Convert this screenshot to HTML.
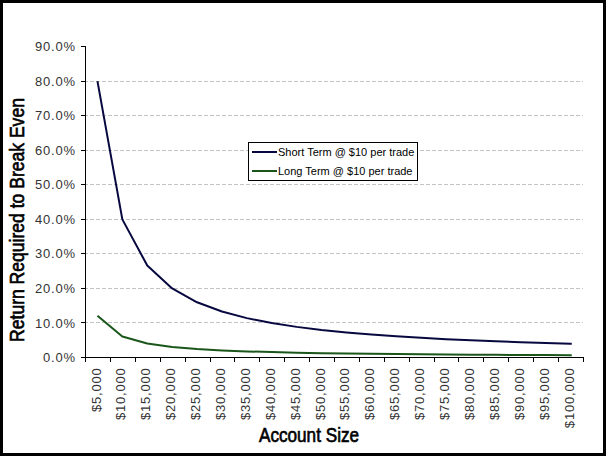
<!DOCTYPE html><html><head><meta charset="utf-8"><style>html,body{margin:0;padding:0;background:#fff}svg{display:block}</style></head><body>
<svg width="606" height="456" viewBox="0 0 606 456">
<rect x="0" y="0" width="606" height="456" fill="#000"/>
<rect x="3" y="3" width="600" height="450" fill="#fff"/>
<line x1="86" y1="322.5" x2="583" y2="322.5" stroke="#c4c4c4" stroke-width="1" stroke-dasharray="4 2" stroke-dashoffset="2"/>
<line x1="86" y1="288.5" x2="583" y2="288.5" stroke="#c4c4c4" stroke-width="1" stroke-dasharray="4 2" stroke-dashoffset="2"/>
<line x1="86" y1="253.5" x2="583" y2="253.5" stroke="#c4c4c4" stroke-width="1" stroke-dasharray="4 2" stroke-dashoffset="2"/>
<line x1="86" y1="219.5" x2="583" y2="219.5" stroke="#c4c4c4" stroke-width="1" stroke-dasharray="4 2" stroke-dashoffset="2"/>
<line x1="86" y1="184.5" x2="583" y2="184.5" stroke="#c4c4c4" stroke-width="1" stroke-dasharray="4 2" stroke-dashoffset="2"/>
<line x1="86" y1="150.5" x2="583" y2="150.5" stroke="#c4c4c4" stroke-width="1" stroke-dasharray="4 2" stroke-dashoffset="2"/>
<line x1="86" y1="115.5" x2="583" y2="115.5" stroke="#c4c4c4" stroke-width="1" stroke-dasharray="4 2" stroke-dashoffset="2"/>
<line x1="86" y1="81.5" x2="583" y2="81.5" stroke="#c4c4c4" stroke-width="1" stroke-dasharray="4 2" stroke-dashoffset="2"/>
<line x1="85.5" y1="46" x2="85.5" y2="358" stroke="#000" stroke-width="1"/>
<line x1="81" y1="357.5" x2="584" y2="357.5" stroke="#000" stroke-width="1"/>
<line x1="81" y1="357.5" x2="86" y2="357.5" stroke="#000" stroke-width="1"/>
<line x1="81" y1="322.5" x2="86" y2="322.5" stroke="#000" stroke-width="1"/>
<line x1="81" y1="288.5" x2="86" y2="288.5" stroke="#000" stroke-width="1"/>
<line x1="81" y1="253.5" x2="86" y2="253.5" stroke="#000" stroke-width="1"/>
<line x1="81" y1="219.5" x2="86" y2="219.5" stroke="#000" stroke-width="1"/>
<line x1="81" y1="184.5" x2="86" y2="184.5" stroke="#000" stroke-width="1"/>
<line x1="81" y1="150.5" x2="86" y2="150.5" stroke="#000" stroke-width="1"/>
<line x1="81" y1="115.5" x2="86" y2="115.5" stroke="#000" stroke-width="1"/>
<line x1="81" y1="81.5" x2="86" y2="81.5" stroke="#000" stroke-width="1"/>
<line x1="81" y1="46.5" x2="86" y2="46.5" stroke="#000" stroke-width="1"/>
<line x1="85.5" y1="357" x2="85.5" y2="362" stroke="#000" stroke-width="1"/>
<line x1="110.5" y1="357" x2="110.5" y2="362" stroke="#000" stroke-width="1"/>
<line x1="135.5" y1="357" x2="135.5" y2="362" stroke="#000" stroke-width="1"/>
<line x1="160.5" y1="357" x2="160.5" y2="362" stroke="#000" stroke-width="1"/>
<line x1="185.5" y1="357" x2="185.5" y2="362" stroke="#000" stroke-width="1"/>
<line x1="210.5" y1="357" x2="210.5" y2="362" stroke="#000" stroke-width="1"/>
<line x1="234.5" y1="357" x2="234.5" y2="362" stroke="#000" stroke-width="1"/>
<line x1="259.5" y1="357" x2="259.5" y2="362" stroke="#000" stroke-width="1"/>
<line x1="284.5" y1="357" x2="284.5" y2="362" stroke="#000" stroke-width="1"/>
<line x1="309.5" y1="357" x2="309.5" y2="362" stroke="#000" stroke-width="1"/>
<line x1="334.5" y1="357" x2="334.5" y2="362" stroke="#000" stroke-width="1"/>
<line x1="359.5" y1="357" x2="359.5" y2="362" stroke="#000" stroke-width="1"/>
<line x1="384.5" y1="357" x2="384.5" y2="362" stroke="#000" stroke-width="1"/>
<line x1="409.5" y1="357" x2="409.5" y2="362" stroke="#000" stroke-width="1"/>
<line x1="434.5" y1="357" x2="434.5" y2="362" stroke="#000" stroke-width="1"/>
<line x1="458.5" y1="357" x2="458.5" y2="362" stroke="#000" stroke-width="1"/>
<line x1="483.5" y1="357" x2="483.5" y2="362" stroke="#000" stroke-width="1"/>
<line x1="508.5" y1="357" x2="508.5" y2="362" stroke="#000" stroke-width="1"/>
<line x1="533.5" y1="357" x2="533.5" y2="362" stroke="#000" stroke-width="1"/>
<line x1="558.5" y1="357" x2="558.5" y2="362" stroke="#000" stroke-width="1"/>
<line x1="583.5" y1="357" x2="583.5" y2="362" stroke="#000" stroke-width="1"/>
<text x="75.8" y="357.6" text-anchor="end" dominant-baseline="central" font-family="Liberation Sans, sans-serif" font-size="13.0" letter-spacing="0.8" fill="#333">0.0%</text>
<text x="75.8" y="323.0" text-anchor="end" dominant-baseline="central" font-family="Liberation Sans, sans-serif" font-size="13.0" letter-spacing="0.8" fill="#333">10.0%</text>
<text x="75.8" y="288.5" text-anchor="end" dominant-baseline="central" font-family="Liberation Sans, sans-serif" font-size="13.0" letter-spacing="0.8" fill="#333">20.0%</text>
<text x="75.8" y="253.9" text-anchor="end" dominant-baseline="central" font-family="Liberation Sans, sans-serif" font-size="13.0" letter-spacing="0.8" fill="#333">30.0%</text>
<text x="75.8" y="219.4" text-anchor="end" dominant-baseline="central" font-family="Liberation Sans, sans-serif" font-size="13.0" letter-spacing="0.8" fill="#333">40.0%</text>
<text x="75.8" y="184.8" text-anchor="end" dominant-baseline="central" font-family="Liberation Sans, sans-serif" font-size="13.0" letter-spacing="0.8" fill="#333">50.0%</text>
<text x="75.8" y="150.3" text-anchor="end" dominant-baseline="central" font-family="Liberation Sans, sans-serif" font-size="13.0" letter-spacing="0.8" fill="#333">60.0%</text>
<text x="75.8" y="115.7" text-anchor="end" dominant-baseline="central" font-family="Liberation Sans, sans-serif" font-size="13.0" letter-spacing="0.8" fill="#333">70.0%</text>
<text x="75.8" y="81.2" text-anchor="end" dominant-baseline="central" font-family="Liberation Sans, sans-serif" font-size="13.0" letter-spacing="0.8" fill="#333">80.0%</text>
<text x="75.8" y="46.6" text-anchor="end" dominant-baseline="central" font-family="Liberation Sans, sans-serif" font-size="13.0" letter-spacing="0.8" fill="#333">90.0%</text>
<text transform="translate(96.0,367.5) rotate(-90)" x="0" y="0" text-anchor="end" dominant-baseline="central" font-family="Liberation Sans, sans-serif" font-size="13.0" letter-spacing="0.8" fill="#333">$5,000</text>
<text transform="translate(120.8,367.5) rotate(-90)" x="0" y="0" text-anchor="end" dominant-baseline="central" font-family="Liberation Sans, sans-serif" font-size="13.0" letter-spacing="0.8" fill="#333">$10,000</text>
<text transform="translate(145.8,367.5) rotate(-90)" x="0" y="0" text-anchor="end" dominant-baseline="central" font-family="Liberation Sans, sans-serif" font-size="13.0" letter-spacing="0.8" fill="#333">$15,000</text>
<text transform="translate(170.6,367.5) rotate(-90)" x="0" y="0" text-anchor="end" dominant-baseline="central" font-family="Liberation Sans, sans-serif" font-size="13.0" letter-spacing="0.8" fill="#333">$20,000</text>
<text transform="translate(195.6,367.5) rotate(-90)" x="0" y="0" text-anchor="end" dominant-baseline="central" font-family="Liberation Sans, sans-serif" font-size="13.0" letter-spacing="0.8" fill="#333">$25,000</text>
<text transform="translate(220.4,367.5) rotate(-90)" x="0" y="0" text-anchor="end" dominant-baseline="central" font-family="Liberation Sans, sans-serif" font-size="13.0" letter-spacing="0.8" fill="#333">$30,000</text>
<text transform="translate(245.3,367.5) rotate(-90)" x="0" y="0" text-anchor="end" dominant-baseline="central" font-family="Liberation Sans, sans-serif" font-size="13.0" letter-spacing="0.8" fill="#333">$35,000</text>
<text transform="translate(270.2,367.5) rotate(-90)" x="0" y="0" text-anchor="end" dominant-baseline="central" font-family="Liberation Sans, sans-serif" font-size="13.0" letter-spacing="0.8" fill="#333">$40,000</text>
<text transform="translate(295.1,367.5) rotate(-90)" x="0" y="0" text-anchor="end" dominant-baseline="central" font-family="Liberation Sans, sans-serif" font-size="13.0" letter-spacing="0.8" fill="#333">$45,000</text>
<text transform="translate(320.0,367.5) rotate(-90)" x="0" y="0" text-anchor="end" dominant-baseline="central" font-family="Liberation Sans, sans-serif" font-size="13.0" letter-spacing="0.8" fill="#333">$50,000</text>
<text transform="translate(344.9,367.5) rotate(-90)" x="0" y="0" text-anchor="end" dominant-baseline="central" font-family="Liberation Sans, sans-serif" font-size="13.0" letter-spacing="0.8" fill="#333">$55,000</text>
<text transform="translate(369.8,367.5) rotate(-90)" x="0" y="0" text-anchor="end" dominant-baseline="central" font-family="Liberation Sans, sans-serif" font-size="13.0" letter-spacing="0.8" fill="#333">$60,000</text>
<text transform="translate(394.8,367.5) rotate(-90)" x="0" y="0" text-anchor="end" dominant-baseline="central" font-family="Liberation Sans, sans-serif" font-size="13.0" letter-spacing="0.8" fill="#333">$65,000</text>
<text transform="translate(419.6,367.5) rotate(-90)" x="0" y="0" text-anchor="end" dominant-baseline="central" font-family="Liberation Sans, sans-serif" font-size="13.0" letter-spacing="0.8" fill="#333">$70,000</text>
<text transform="translate(444.5,367.5) rotate(-90)" x="0" y="0" text-anchor="end" dominant-baseline="central" font-family="Liberation Sans, sans-serif" font-size="13.0" letter-spacing="0.8" fill="#333">$75,000</text>
<text transform="translate(469.4,367.5) rotate(-90)" x="0" y="0" text-anchor="end" dominant-baseline="central" font-family="Liberation Sans, sans-serif" font-size="13.0" letter-spacing="0.8" fill="#333">$80,000</text>
<text transform="translate(494.3,367.5) rotate(-90)" x="0" y="0" text-anchor="end" dominant-baseline="central" font-family="Liberation Sans, sans-serif" font-size="13.0" letter-spacing="0.8" fill="#333">$85,000</text>
<text transform="translate(519.2,367.5) rotate(-90)" x="0" y="0" text-anchor="end" dominant-baseline="central" font-family="Liberation Sans, sans-serif" font-size="13.0" letter-spacing="0.8" fill="#333">$90,000</text>
<text transform="translate(544.1,367.5) rotate(-90)" x="0" y="0" text-anchor="end" dominant-baseline="central" font-family="Liberation Sans, sans-serif" font-size="13.0" letter-spacing="0.8" fill="#333">$95,000</text>
<text transform="translate(569.0,367.5) rotate(-90)" x="0" y="0" text-anchor="end" dominant-baseline="central" font-family="Liberation Sans, sans-serif" font-size="13.0" letter-spacing="0.8" fill="#333">$100,000</text>
<polyline points="97.45,81.16 122.35,219.38 147.25,265.45 172.15,288.49 197.05,302.31 221.95,311.53 246.85,318.11 271.75,323.04 296.65,326.88 321.55,329.96 346.45,332.47 371.35,334.56 396.25,336.34 421.15,337.85 446.05,339.17 470.95,340.32 495.85,341.34 520.75,342.24 545.65,343.05 570.55,343.78 571.75,343.78" fill="none" stroke="#080840" stroke-width="2.0" stroke-linejoin="round"/>
<polyline points="97.45,315.83 122.35,336.57 147.25,343.48 172.15,346.93 197.05,349.01 221.95,350.39 246.85,351.38 271.75,352.12 296.65,352.69 321.55,353.15 346.45,353.53 371.35,353.84 396.25,354.11 421.15,354.34 446.05,354.54 470.95,354.71 495.85,354.86 520.75,355.00 545.65,355.12 570.55,355.23 571.75,355.23" fill="none" stroke="#1a561a" stroke-width="2.0" stroke-linejoin="round"/>
<rect x="248.5" y="142.5" width="169" height="38" fill="#fff" stroke="#000" stroke-width="1"/>
<line x1="252" y1="152" x2="277" y2="152" stroke="#080840" stroke-width="2"/>
<line x1="252" y1="171" x2="277" y2="171" stroke="#1a561a" stroke-width="2"/>
<text x="278.0" y="156" font-family="Liberation Sans, sans-serif" font-size="11.0" fill="#000">Short Term @ $10 per trade</text>
<text x="278.0" y="175" font-family="Liberation Sans, sans-serif" font-size="11.0" fill="#000">Long Term @ $10 per trade</text>
<text transform="translate(309,441.5) scale(0.88,1)" x="0" y="0" text-anchor="middle" font-family="Liberation Sans, sans-serif" font-size="19.5" font-weight="normal" fill="#000" stroke="#000" stroke-width="0.65">Account Size</text>
<text transform="translate(23.5,220) rotate(-90) scale(0.9,1)" x="0" y="0" text-anchor="middle" font-family="Liberation Sans, sans-serif" font-size="19.5" font-weight="normal" fill="#000" stroke="#000" stroke-width="0.65">Return Required to Break Even</text>
</svg></body></html>
